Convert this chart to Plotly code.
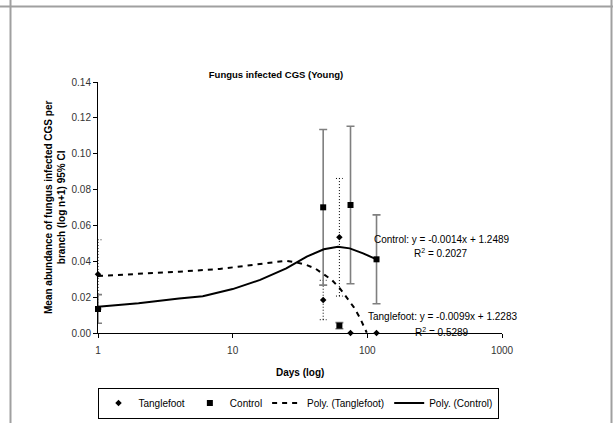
import plotly.graph_objects as go

# days of each sampling event
days = [1, 47, 62, 75, 117]

# mean abundance (log n+1) and 95% CI half width
tangle_mean = [0.0327, 0.0184, 0.0534, 0.0, 0.0]
tangle_ci = [0.0193, 0.011, 0.0328, 0.0, 0.0]
control_mean = [0.0134, 0.0701, 0.0041, 0.0714, 0.0411]
control_ci = [0.008, 0.0434, 0.0017, 0.0439, 0.0248]

# trendlines as drawn in the original chart
poly_tangle_x = [1, 2, 4, 8, 13, 21, 25, 30, 35.5, 41, 47.5, 54.5, 62.5, 70.5, 79.5, 88, 99]
poly_tangle_y = [0.0318, 0.0329, 0.0342, 0.0357, 0.0378, 0.0399, 0.0403, 0.0393, 0.0379, 0.036,
                 0.0329, 0.0296, 0.0249, 0.0199, 0.0143, 0.0085, 0.0002]
poly_control_x = [1, 2, 4, 6, 10, 16, 25, 35.5, 47.5, 60.5, 74, 93, 117]
poly_control_y = [0.0147, 0.0166, 0.0192, 0.0205, 0.0245, 0.0296, 0.036, 0.0426, 0.0467, 0.0481,
                  0.0472, 0.0444, 0.0411]

yticks = [0.0, 0.02, 0.04, 0.06, 0.08, 0.10, 0.12, 0.14]
xticks = [1, 10, 100, 1000]

W, H = 613, 423
L, R, T, B = 98, 111, 82, 90
FONT = "Liberation Sans, Arial, sans-serif"


def px(x):
    return (x - L) / (W - L - R)


def py(y):
    return (H - B - y) / (H - T - B)


# dotted error bars for tanglefoot, with small caps
ex, ey = [], []
for d, m, c in zip(days, tangle_mean, tangle_ci):
    if c <= 0:
        continue
    ex += [d, d, None, d / 1.06, d * 1.06, None, d / 1.06, d * 1.06, None]
    ey += [m - c, m + c, None, m - c, m - c, None, m + c, m + c, None]

fig = go.Figure()

fig.add_trace(go.Scatter(x=ex, y=ey, mode="lines", showlegend=False, hoverinfo="skip",
                         line=dict(color="black", width=1, dash="1px,2px")))
fig.add_trace(go.Scatter(
    x=days, y=control_mean, mode="markers", showlegend=False, hoverinfo="skip",
    marker=dict(size=0.1, color="rgba(0,0,0,0)"),
    error_y=dict(type="data", array=control_ci, color="#7f7f7f", thickness=1.6, width=4),
))
fig.add_trace(go.Scatter(x=poly_tangle_x, y=poly_tangle_y, mode="lines", name="Poly. (Tanglefoot)",
                         legendrank=3, line=dict(color="black", width=2, dash="5px,5px")))
fig.add_trace(go.Scatter(x=poly_control_x, y=poly_control_y, mode="lines", name="Poly. (Control)",
                         legendrank=4, line=dict(color="black", width=2)))
fig.add_trace(go.Scatter(x=days, y=tangle_mean, mode="markers", name="Tanglefoot", legendrank=1,
                         cliponaxis=False, marker=dict(symbol="diamond", size=5, color="black")))
fig.add_trace(go.Scatter(x=days, y=control_mean, mode="markers", name="Control", legendrank=2,
                         cliponaxis=False, marker=dict(symbol="square", size=6, color="black")))

fig.update_layout(
    width=W, height=H,
    margin=dict(l=L, r=R, t=T, b=B, autoexpand=False),
    plot_bgcolor="white", paper_bgcolor="white",
    font=dict(family=FONT, size=10, color="black"),
    title=dict(text="<b>Fungus infected CGS (Young)</b>", x=276 / W, y=1 - 75 / H,
               xanchor="center", yanchor="middle", font=dict(size=9.5, color="black")),
    showlegend=True,
    legend=dict(orientation="h", x=px(298), y=py(403), xanchor="center", yanchor="middle",
                bordercolor="black", borderwidth=1, bgcolor="white",
                font=dict(size=10), itemwidth=30, tracegroupgap=0),
)
fig.update_xaxes(type="log", range=[0, 3], tickvals=xticks, ticktext=[str(v) for v in xticks],
                 showline=True, linecolor="black", linewidth=1, ticks="outside", ticklen=4,
                 tickcolor="black", showgrid=False, zeroline=False, ticklabelstandoff=4,
                 tickfont=dict(size=10, color="#333"))
fig.update_yaxes(range=[0, 0.14], tickvals=yticks, tickformat=".2f",
                 showline=True, linecolor="black", linewidth=1, ticks="outside", ticklen=4,
                 tickcolor="black", showgrid=False, zeroline=False,
                 tickfont=dict(size=10, color="#333"))


def note(text, x, y, xanchor="center", **kw):
    fig.add_annotation(text=text, xref="paper", yref="paper", x=px(x), y=py(y),
                       xanchor=xanchor, yanchor="middle", showarrow=False,
                       font=dict(size=10), **kw)


# axis titles
note("<b>Days (log)</b>", 300, 372)
note("<b>Mean abundance of fungus infected CGS per<br>branch (log n+1) 95% CI</b>", 55, 208,
     textangle=-90)

# trendline equations
note("Control: y = -0.0014x + 1.2489", 372, 239, xanchor="left")
note("R<sup>2</sup> = 0.2027", 441, 253)
note("Tanglefoot: y = -0.0099x + 1.2283", 366, 316, xanchor="left")
note("R<sup>2</sup> = 0.5289", 442, 332)

# sheet border lines
border = dict(color="#a0a0a0", width=2)
fig.add_shape(type="line", xref="paper", yref="paper", x0=px(0), x1=px(W), y0=py(6.5), y1=py(6.5), line=border)
fig.add_shape(type="line", xref="paper", yref="paper", x0=px(10.5), x1=px(10.5), y0=py(0), y1=py(H), line=border)
fig.add_shape(type="line", xref="paper", yref="paper", x0=px(611.5), x1=px(611.5), y0=py(0), y1=py(H), line=border)

# drop the default page margin so the figure sits at the window corner
fig.write_html("out.html", config={"displayModeBar": False},
               post_script="document.body.style.margin='0';")
